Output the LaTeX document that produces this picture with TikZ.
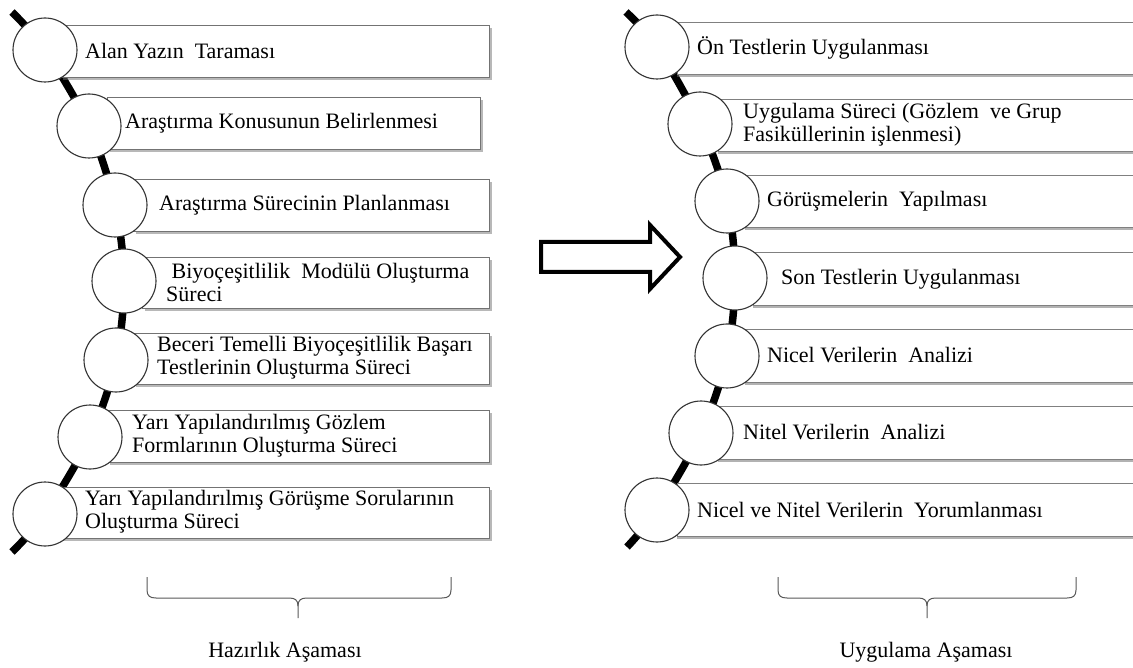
\documentclass[tikz,border=0pt]{standalone}
\usepackage{fontspec}
\setmainfont{Liberation Serif}
\usetikzlibrary{shadows}
\pgfdeclarelayer{bg}
\pgfsetlayers{bg,main}
\begin{document}
\begin{tikzpicture}[x=1pt,y=-1pt,
  stepbox/.style={draw=black!55, line width=0.9pt, fill=white, anchor=north west, inner sep=0pt,
    drop shadow={shadow xshift=2.5pt, shadow yshift=-2.5pt, fill=black!55, opacity=0.5}},
  rbox/.style={draw=black!50, line width=0.9pt, fill=white, anchor=north west, inner sep=0pt,
    drop shadow={shadow xshift=0pt, shadow yshift=-3pt, fill=black!60, opacity=0.5}},
  ring/.style={circle, draw=black!80, line width=1.1pt, fill=white, minimum size=64pt, inner sep=0pt},
  lbl/.style={anchor=west, font=\fontsize{22}{23}\selectfont, align=left, inner sep=0pt, text=black},
  phasecap/.style={font=\fontsize{22}{23}\selectfont, inner sep=0pt, text=black},
  spine/.style={line width=7.5pt, black},
  brace/.style={draw=black!65, line width=1pt},
  bigarrow/.style={draw=black, line width=4pt, line join=miter, fill=white}]
\begin{pgfonlayer}{bg}
\fill[white] (0,0) rectangle (1133,668);
\end{pgfonlayer}
\useasboundingbox (0,0) rectangle (1133,668);

% ---------- left column boxes ----------
\node[stepbox, minimum width=429pt, minimum height=52pt] (bL1) at (60,25) {};
\node[stepbox, minimum width=373pt, minimum height=52pt] (bL2) at (107,97) {};
\node[stepbox, minimum width=356pt, minimum height=52pt] (bL3) at (133,179) {};
\node[stepbox, minimum width=347pt, minimum height=51pt] (bL4) at (142,257) {};
\node[stepbox, minimum width=356pt, minimum height=51pt] (bL5) at (133,333) {};
\node[stepbox, minimum width=382pt, minimum height=52pt] (bL6) at (107,410) {};
\node[stepbox, minimum width=429pt, minimum height=51pt] (bL7) at (60,487) {};

% ---------- right column boxes ----------
\node[rbox, minimum width=470pt, minimum height=52pt] (bR1) at (677,22) {};
\node[rbox, minimum width=430pt, minimum height=52pt] (bR2) at (718,99) {};
\node[rbox, minimum width=400pt, minimum height=52pt] (bR3) at (745,175) {};
\node[rbox, minimum width=400pt, minimum height=53pt] (bR4) at (753,252) {};
\node[rbox, minimum width=400pt, minimum height=53pt] (bR5) at (745,329) {};
\node[rbox, minimum width=430pt, minimum height=53pt] (bR6) at (718,406) {};
\node[rbox, minimum width=470pt, minimum height=53pt] (bR7) at (677,483) {};

% ---------- circles ----------
\node[ring] (cL1) at (45,50) {};
\node[ring] (cL2) at (89,126) {};
\node[ring] (cL3) at (115,205) {};
\node[ring] (cL4) at (124,281) {};
\node[ring] (cL5) at (116,360) {};
\node[ring] (cL6) at (90,437) {};
\node[ring] (cL7) at (45,514) {};

\node[ring] (cR1) at (657,47) {};
\node[ring] (cR2) at (700,124) {};
\node[ring] (cR3) at (727,201) {};
\node[ring] (cR4) at (735,278) {};
\node[ring] (cR5) at (727,356) {};
\node[ring] (cR6) at (701,433) {};
\node[ring] (cR7) at (657,510) {};

\coordinate (sLt) at (12,12);
\coordinate (sLb) at (12,552);
\coordinate (sRt) at (626,12);
\coordinate (sRb) at (627,547);

\begin{pgfonlayer}{bg}
\draw[spine] plot[smooth, tension=0.55] coordinates {(sLt) (cL1.center) (cL2.center) (cL3.center) (cL4.center) (cL5.center) (cL6.center) (cL7.center) (sLb)};
\draw[spine] plot[smooth, tension=0.55] coordinates {(sRt) (cR1.center) (cR2.center) (cR3.center) (cR4.center) (cR5.center) (cR6.center) (cR7.center) (sRb)};
\end{pgfonlayer}

% ---------- texts ----------
\node[lbl] (tL1) at (85,51) {Alan Yazın\ \ Taraması};
\node[lbl] (tL2) at (125,123) {Araştırma\ Konusunun Belirlenmesi};
\node[lbl] (tL3) at (159,205) {Araştırma\ Sürecinin Planlanması};
\node[lbl] (tL4) at (166,282) {\ Biyoçeşitlilik\ \ Modülü Oluşturma\\Süreci};
\node[lbl] (tL5) at (157,358) {Beceri\ Temelli\ Biyoçeşitlilik\ Başarı\\Testlerinin Oluşturma\ Süreci};
\node[lbl] (tL6) at (132,436) {Yarı\ Yapılandırılmış\ Gözlem\\Formlarının\ Oluşturma\ Süreci};
\node[lbl] (tL7) at (85,512) {Yarı\ Yapılandırılmış\ Görüşme\ Sorularının\\Oluşturma\ Süreci};

\node[lbl] (tR1) at (697,48) {Ön Testlerin Uygulanması};
\node[lbl] (tR2) at (743,125) {Uygulama\ Süreci (Gözlem\ \ ve Grup\\Fasiküllerinin\ işlenmesi)};
\node[lbl] (tR3) at (767,201) {Görüşmelerin\ \ Yapılması};
\node[lbl] (tR4) at (781,279) {Son Testlerin Uygulanması};
\node[lbl] (tR5) at (767,355) {Nicel Verilerin\ \ Analizi};
\node[lbl] (tR6) at (743,432) {Nitel Verilerin\ \ Analizi};
\node[lbl] (tR7) at (697,510) {Nicel ve Nitel Verilerin\ \ Yorumlanması};

% ---------- big arrow ----------
\draw[bigarrow] (541,242) -- (650,242) -- (650,225) -- (680,257) -- (650,289) -- (650,272) -- (541,272) -- cycle;

% ---------- braces ----------
\draw[brace] (147,577) -- (147,590) .. controls (147,596) and (150,598) .. (156,598) -- (289,598)
  .. controls (295,598) and (298,600) .. (298,606) -- (298,618);
\draw[brace] (451,577) -- (451,590) .. controls (451,596) and (448,598) .. (442,598) -- (307,598)
  .. controls (301,598) and (298,600) .. (298,606);
\draw[brace] (778,577) -- (778,590) .. controls (778,596) and (781,598) .. (787,598) -- (918,598)
  .. controls (924,598) and (927,600) .. (927,606) -- (927,618);
\draw[brace] (1076,577) -- (1076,590) .. controls (1076,596) and (1073,598) .. (1067,598) -- (936,598)
  .. controls (930,598) and (927,600) .. (927,606);

\node[phasecap] (hL) at (285,652) {Hazırlık Aşaması};
\node[phasecap] (hR) at (926,652) {Uygulama Aşaması};
\end{tikzpicture}
\end{document}
